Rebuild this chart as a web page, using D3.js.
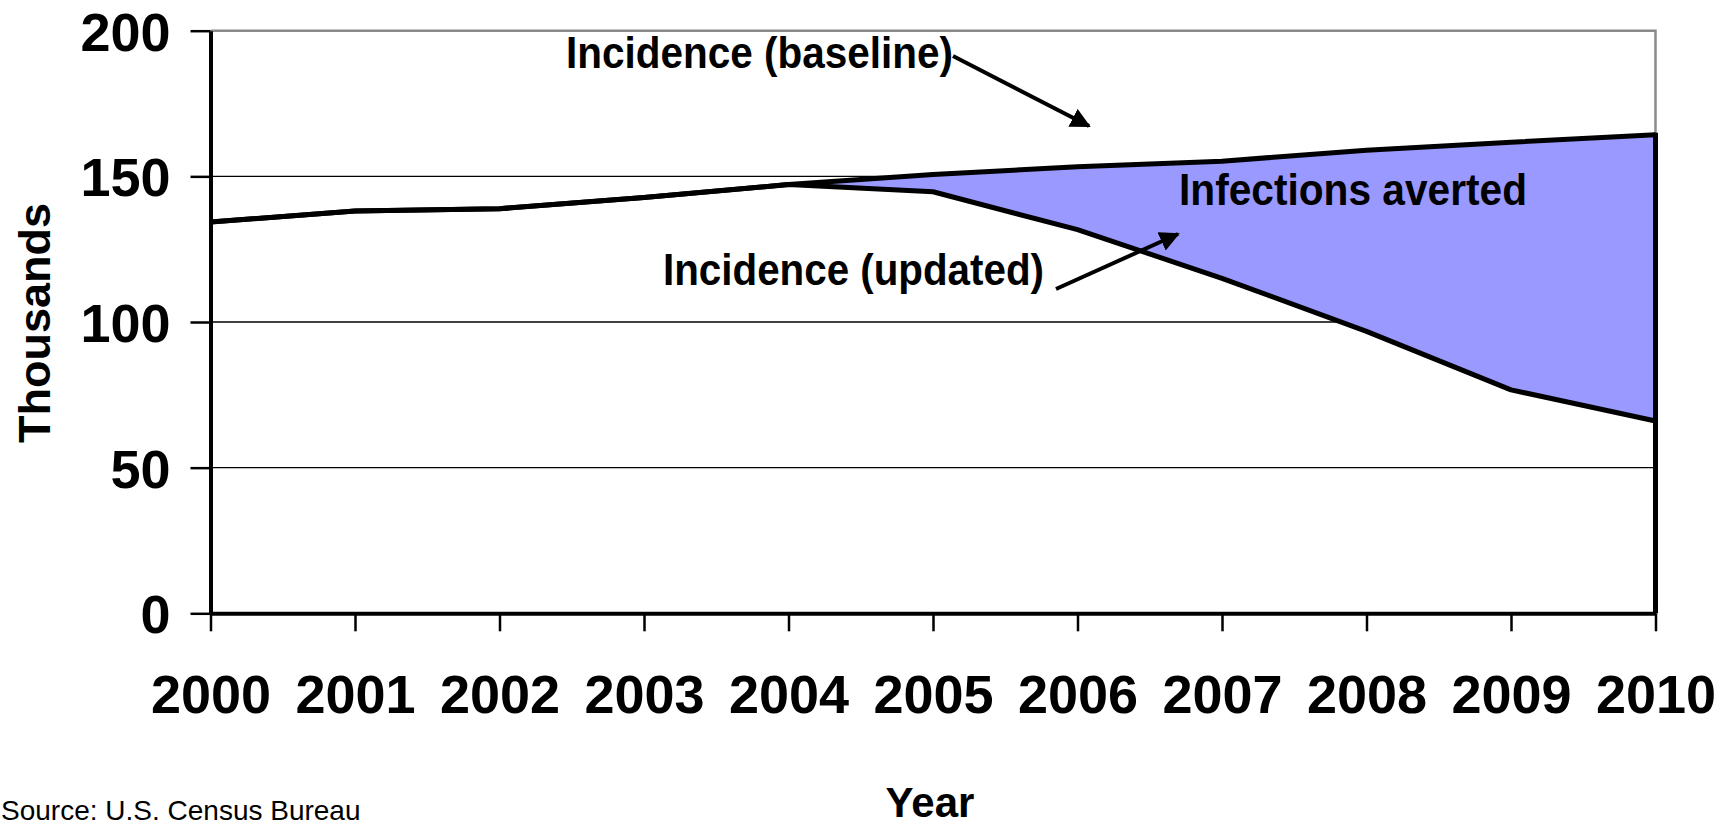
<!DOCTYPE html>
<html>
<head>
<meta charset="utf-8">
<script src="https://cdn.jsdelivr.net/npm/d3@7"></script>
<style>
  html, body { margin: 0; padding: 0; background: #fff; overflow: hidden; }
  svg { display: block; }
  text { font-family: "Liberation Sans", Arial, sans-serif; }
</style>
</head>
<body>
<svg id="chart" width="1733" height="829"></svg>
<script>
// ---- data (thousands) ----
const years = [2000, 2001, 2002, 2003, 2004, 2005, 2006, 2007, 2008, 2009, 2010];
const baseline = [134.3, 138.1, 138.9, 142.7, 147.2, 150.6, 153.3, 155.2, 159.0, 161.7, 164.3];
const updated  = [134.3, 138.1, 138.9, 142.7, 147.2, 144.7, 131.7, 115.0, 96.8, 76.7, 66.0];
const yTicks = [0, 50, 100, 150, 200];
const gridValues = [50, 100, 150];

const svg = d3.select("#chart");
const x = d3.scaleLinear().domain([2000, 2010]).range([210.5, 1655.5]);
const y = d3.scaleLinear().domain([0, 200]).range([613.3, 30.7]);

const rows = years.map((yr, i) => ({ yr, b: baseline[i], u: updated[i] }));

// gridlines
svg.append("g").selectAll("line").data(gridValues).join("line")
  .attr("x1", x(2000)).attr("x2", x(2010))
  .attr("y1", d => y(d)).attr("y2", d => y(d))
  .attr("stroke", "#000").attr("stroke-width", 1.4);

// plot border (top + right), grey
svg.append("path")
  .attr("d", `M${x(2000)},${y(200)}H${x(2010)}V${y(0)}`)
  .attr("fill", "none").attr("stroke", "#8a8a8a").attr("stroke-width", 2.5);

// area: infections averted
svg.append("path").datum(rows)
  .attr("d", d3.area().x(d => x(d.yr)).y0(d => y(d.u)).y1(d => y(d.b)))
  .attr("fill", "#9999FF");

// lines
const line = key => d3.line().x(d => x(d.yr)).y(d => y(d[key]));
svg.append("path").datum(rows).attr("d", line("b"))
  .attr("fill", "none").attr("stroke", "#000").attr("stroke-width", 5).attr("stroke-linejoin", "round");
svg.append("path").datum(rows).attr("d", line("u"))
  .attr("fill", "none").attr("stroke", "#000").attr("stroke-width", 5).attr("stroke-linejoin", "round");

// right edge of area down to zero
svg.append("line")
  .attr("x1", x(2010)).attr("x2", x(2010))
  .attr("y1", y(baseline[baseline.length - 1]) - 2).attr("y2", y(0))
  .attr("stroke", "#000").attr("stroke-width", 5);

// axes
const yAxis = d3.axisLeft(y).tickValues(yTicks).tickSize(20).tickSizeOuter(0).tickPadding(20).tickFormat(d3.format("d"));
const gy = svg.append("g").attr("transform", `translate(${x(2000)},0)`).call(yAxis);
gy.select(".domain").attr("stroke", "#000").attr("stroke-width", 4);
gy.selectAll(".tick line").attr("stroke", "#000").attr("stroke-width", 2.5);
gy.selectAll(".tick text").attr("font-size", 54).attr("font-weight", "bold").attr("fill", "#000")
  .attr("font-family", "Liberation Sans, Arial, sans-serif").attr("dy", "0.36em");

const xAxis = d3.axisBottom(x).tickValues(years).tickSize(18).tickSizeOuter(0).tickPadding(43).tickFormat(d3.format("d"));
const gx = svg.append("g").attr("transform", `translate(0,${y(0)})`).call(xAxis);
gx.select(".domain").attr("stroke", "#000").attr("stroke-width", 4);
gx.selectAll(".tick line").attr("stroke", "#000").attr("stroke-width", 2.5);
gx.selectAll(".tick text").attr("font-size", 54).attr("font-weight", "bold").attr("fill", "#000")
  .attr("font-family", "Liberation Sans, Arial, sans-serif");

// axis titles
svg.append("text").text("Thousands")
  .attr("transform", "translate(50,323) rotate(-90)")
  .attr("text-anchor", "middle").attr("font-size", 45).attr("font-weight", "bold");
svg.append("text").text("Year")
  .attr("x", 930).attr("y", 817).attr("text-anchor", "middle")
  .attr("font-size", 42).attr("font-weight", "bold");

// source
svg.append("text").text("Source: U.S. Census Bureau")
  .attr("x", 1).attr("y", 820).attr("font-size", 28);

// arrow marker
const defs = svg.append("defs");
defs.append("marker").attr("id", "arr").attr("viewBox", "0 0 10 10")
  .attr("refX", 9).attr("refY", 5).attr("markerWidth", 5).attr("markerHeight", 5)
  .attr("markerUnits", "strokeWidth").attr("orient", "auto")
  .append("path").attr("d", "M0,0L10,5L0,10Z").attr("fill", "#000");

// annotations
svg.append("text").text("Incidence (baseline)")
  .attr("x", 566).attr("y", 68).attr("font-size", 45).attr("font-weight", "bold")
  .attr("textLength", 387).attr("lengthAdjust", "spacingAndGlyphs");
svg.append("line").attr("x1", 953).attr("y1", 56).attr("x2", 1089).attr("y2", 126)
  .attr("stroke", "#000").attr("stroke-width", 4).attr("marker-end", "url(#arr)");

svg.append("text").text("Incidence (updated)")
  .attr("x", 663).attr("y", 285).attr("font-size", 45).attr("font-weight", "bold")
  .attr("textLength", 381).attr("lengthAdjust", "spacingAndGlyphs");
svg.append("line").attr("x1", 1056).attr("y1", 289).attr("x2", 1178).attr("y2", 234)
  .attr("stroke", "#000").attr("stroke-width", 4).attr("marker-end", "url(#arr)");

svg.append("text").text("Infections averted")
  .attr("x", 1179).attr("y", 205).attr("font-size", 45).attr("font-weight", "bold")
  .attr("textLength", 348).attr("lengthAdjust", "spacingAndGlyphs");
</script>
</body>
</html>
